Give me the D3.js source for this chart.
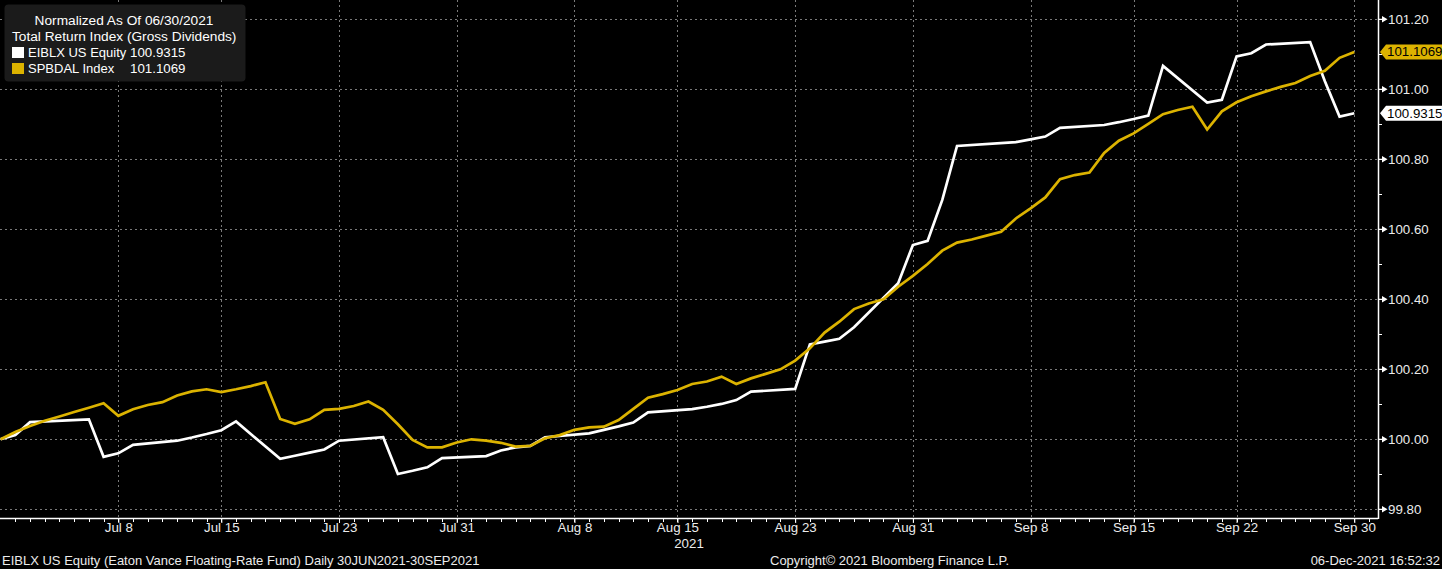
<!DOCTYPE html>
<html>
<head>
<meta charset="utf-8">
<script src="https://cdn.jsdelivr.net/npm/d3@7/dist/d3.min.js"></script>
<style>
  html, body { margin: 0; padding: 0; background: #000; }
  svg { display: block; }
  text { font-family: "Liberation Sans", Arial, sans-serif; }
</style>
</head>
<body>
<svg id="chart" width="1442" height="569"></svg>
<script>
// ---------------- DATA ----------------
const legendTitle1 = "Normalized As Of 06/30/2021";
const legendTitle2 = "Total Return Index (Gross Dividends)";
const seriesNames = ["EIBLX US Equity", "SPBDAL Index"];
const lastValues = [100.9315, 101.1069];

// EIBLX (business days)
const eiblxDates = [
  "2021-06-30","2021-07-01","2021-07-02","2021-07-06","2021-07-07","2021-07-08","2021-07-09",
  "2021-07-12","2021-07-13","2021-07-14","2021-07-15","2021-07-16",
  "2021-07-19","2021-07-20","2021-07-21","2021-07-22","2021-07-23",
  "2021-07-26","2021-07-27","2021-07-28","2021-07-29","2021-07-30",
  "2021-08-02","2021-08-03","2021-08-04","2021-08-05","2021-08-06",
  "2021-08-09","2021-08-10","2021-08-11","2021-08-12","2021-08-13",
  "2021-08-16","2021-08-17","2021-08-18","2021-08-19","2021-08-20",
  "2021-08-23","2021-08-24","2021-08-25","2021-08-26","2021-08-27",
  "2021-08-30","2021-08-31","2021-09-01","2021-09-02","2021-09-03",
  "2021-09-07","2021-09-08","2021-09-09","2021-09-10",
  "2021-09-13","2021-09-14","2021-09-15","2021-09-16","2021-09-17",
  "2021-09-20","2021-09-21","2021-09-22","2021-09-23","2021-09-24",
  "2021-09-27","2021-09-28","2021-09-29","2021-09-30"
];
const eiblxValues = [
  100.000,100.012,100.049,100.057,99.950,99.960,99.984,
  99.996,100.005,100.015,100.026,100.051,
  99.944,99.953,99.962,99.971,99.996,
  100.006,99.901,99.910,99.920,99.946,
  99.952,99.968,99.977,99.981,100.006,
  100.017,100.027,100.037,100.048,100.077,
  100.086,100.093,100.101,100.112,100.136,
  100.144,100.271,100.279,100.287,100.320,
  100.446,100.555,100.567,100.684,100.838,
  100.849,100.857,100.865,100.890,
  100.898,100.906,100.915,100.925,101.067,
  100.962,100.970,101.094,101.103,101.128,
  101.135,101.023,100.922,100.9315
];

// SPBDAL (calendar days, 30 Jun 2021 .. 30 Sep 2021)
const spbdalStart = "2021-06-30";
const spbdalValues = [
  100.000,100.021,100.038,100.053,100.065,100.078,100.090,100.103,100.067,100.086,
  100.098,100.106,100.125,100.137,100.143,100.135,100.143,100.152,100.163,100.058,
  100.044,100.057,100.084,100.087,100.095,100.108,100.084,100.043,99.998,99.977,
  99.977,99.991,100.000,99.996,99.990,99.979,99.981,100.003,100.012,100.027,
  100.034,100.036,100.055,100.087,100.119,100.129,100.141,100.158,100.165,100.179,
  100.158,100.174,100.187,100.200,100.225,100.260,100.305,100.336,100.372,100.388,
  100.400,100.436,100.467,100.501,100.539,100.562,100.571,100.582,100.593,100.631,
  100.660,100.691,100.743,100.755,100.762,100.818,100.853,100.874,100.901,100.929,
  100.941,100.950,100.885,100.937,100.963,100.980,100.994,101.007,101.018,101.038,
  101.053,101.090,101.1069
];

const xTickDates = ["2021-07-08","2021-07-15","2021-07-23","2021-07-31","2021-08-08","2021-08-15",
                    "2021-08-23","2021-08-31","2021-09-08","2021-09-15","2021-09-22","2021-09-30"];
const xTickLabels = ["Jul 8","Jul 15","Jul 23","Jul 31","Aug 8","Aug 15",
                     "Aug 23","Aug 31","Sep 8","Sep 15","Sep 22","Sep 30"];
const yearLabel = "2021";
const yTicks = [99.8,100.0,100.2,100.4,100.6,100.8,101.0,101.2];
const yMinorTicks = [99.9,100.1,100.3,100.5,100.7,100.9,101.1];

const footerLeft = "EIBLX US Equity (Eaton Vance Floating-Rate Fund)  Daily 30JUN2021-30SEP2021";
const footerMid = "Copyright\u00A9 2021 Bloomberg Finance L.P.";
const footerRight = "06-Dec-2021 16:52:32";

// ---------------- CHART ----------------
const W = 1442, H = 569;
const plotRight = 1378, plotBottom = 518;
const colors = ["#ffffff", "#dcb300"];
const parse = d3.utcParse("%Y-%m-%d");

const svg = d3.select("#chart");
svg.append("rect").attr("width", W).attr("height", H).attr("fill", "#000");

const x = d3.scaleUtc()
  .domain([parse("2021-06-30"), new Date(Date.UTC(2021, 9, 1, 14, 40))])
  .range([0.6, plotRight]);
const y = d3.scaleLinear().domain([99.8, 101.2]).range([509.3, 19.3]);

const eiblx = eiblxDates.map((d, i) => ({ date: parse(d), value: eiblxValues[i] }));
const spbStart = parse(spbdalStart);
const spbdal = spbdalValues.map((v, i) => ({ date: d3.utcDay.offset(spbStart, i), value: v }));

// grid
const grid = svg.append("g").attr("stroke", "#7a7a7a").attr("stroke-width", 1)
  .attr("stroke-dasharray", "2,3").attr("shape-rendering", "crispEdges");
grid.selectAll("line.h").data(yTicks).join("line")
  .attr("x1", 0).attr("x2", plotRight)
  .attr("y1", d => Math.round(y(d)) + 0.5).attr("y2", d => Math.round(y(d)) + 0.5);
grid.selectAll("line.v").data(xTickDates).join("line")
  .attr("y1", 0).attr("y2", plotBottom)
  .attr("x1", d => Math.round(x(parse(d))) + 0.5).attr("x2", d => Math.round(x(parse(d))) + 0.5);

// lines
const line = d3.line().x(d => x(d.date)).y(d => y(d.value));
svg.append("path").datum(eiblx).attr("d", line)
  .attr("fill", "none").attr("stroke", colors[0]).attr("stroke-width", 2.7)
  .attr("stroke-linejoin", "miter");
svg.append("path").datum(spbdal).attr("d", line)
  .attr("fill", "none").attr("stroke", colors[1]).attr("stroke-width", 2.7)
  .attr("stroke-linejoin", "miter");

// bottom axis
const xAxisG = svg.append("g").attr("transform", `translate(0,${plotBottom})`);
xAxisG.append("line").attr("x1", 0).attr("x2", plotRight).attr("y1", 0.5).attr("y2", 0.5)
  .attr("stroke", "#fff").attr("stroke-width", 1.5);
const days = d3.utcDay.range(parse("2021-07-01"), parse("2021-10-02"));
xAxisG.selectAll("line.minor").data(days).join("line")
  .attr("x1", d => Math.round(x(d)) + 0.5).attr("x2", d => Math.round(x(d)) + 0.5)
  .attr("y1", 0).attr("y2", 4).attr("stroke", "#fff").attr("stroke-width", 1);
const xAxis = d3.axisBottom(x)
  .tickValues(xTickDates.map(parse))
  .tickFormat((d, i) => xTickLabels[i])
  .tickSize(5).tickPadding(3);
const xa = xAxisG.append("g").call(xAxis);
xa.select(".domain").remove();
xa.selectAll(".tick line").attr("stroke", "#fff");
xa.selectAll(".tick text").attr("fill", "#ececec").attr("font-size", 13.3)
  .attr("font-family", "'Liberation Sans', Arial, sans-serif")
  .attr("dy", null).attr("y", 14);
xAxisG.append("text").attr("x", plotRight / 2).attr("y", 30).attr("text-anchor", "middle")
  .attr("fill", "#ececec").attr("font-size", 13.3).text(yearLabel);

// right axis
const yAxisG = svg.append("g").attr("transform", `translate(${plotRight},0)`);
yAxisG.append("line").attr("x1", 0.5).attr("x2", 0.5).attr("y1", 0).attr("y2", plotBottom + 1)
  .attr("stroke", "#fff").attr("stroke-width", 1.5);
yAxisG.selectAll("line.minor").data(yMinorTicks).join("line")
  .attr("x1", 0).attr("x2", 4)
  .attr("y1", d => Math.round(y(d)) + 0.5).attr("y2", d => Math.round(y(d)) + 0.5)
  .attr("stroke", "#fff");
const yAxis = d3.axisRight(y).tickValues(yTicks).tickFormat(d3.format(".2f"))
  .tickSize(0).tickPadding(10);
const ya = yAxisG.append("g").call(yAxis);
ya.select(".domain").remove();
ya.selectAll(".tick text").attr("fill", "#ececec").attr("font-size", 13.3)
  .attr("font-family", "'Liberation Sans', Arial, sans-serif");
yAxisG.selectAll("path.arrow").data(yTicks).join("path")
  .attr("d", d => { const yy = y(d); return `M0,${yy - 0.6}h4v-2.6l5.5,3.2l-5.5,3.2v-2.6h-4z`; })
  .attr("fill", "#fff");

// last value tags
lastValues.forEach((v, i) => {
  const yy = y(v);
  const g = svg.append("g");
  g.append("path")
    .attr("d", `M${plotRight + 2},${yy} L${plotRight + 8},${yy - 7.5} H${W} V${yy + 7.5} H${plotRight + 8} Z`)
    .attr("fill", colors[i]);
  g.append("text").attr("x", plotRight + 9).attr("y", yy + 4.6)
    .attr("fill", "#000").attr("font-size", 13.3).text(d3.format(".4f")(v));
});

// legend
const lg = svg.append("g");
lg.append("rect").attr("x", 4.5).attr("y", 4.5).attr("width", 241).attr("height", 77)
  .attr("rx", 4).attr("fill", "#1b1b1b");
lg.append("text").attr("x", 124).attr("y", 25).attr("text-anchor", "middle")
  .attr("fill", "#fff").attr("font-size", 13.7).text(legendTitle1);
lg.append("text").attr("x", 12).attr("y", 40.5).attr("fill", "#fff").attr("font-size", 13.7).text(legendTitle2);
seriesNames.forEach((n, i) => {
  const yy = 56.5 + i * 16;
  lg.append("rect").attr("x", 12).attr("y", yy - 9.5).attr("width", 12).attr("height", 11).attr("fill", colors[i]);
  lg.append("text").attr("x", 28).attr("y", yy).attr("fill", "#fff").attr("font-size", 13).text(n);
  lg.append("text").attr("x", 130).attr("y", yy).attr("fill", "#fff").attr("font-size", 13.3)
    .text(d3.format(".4f")(lastValues[i]));
});

// footer
svg.append("text").attr("x", 2).attr("y", 565).attr("fill", "#ececec").attr("font-size", 13).text(footerLeft);
svg.append("text").attr("x", 770).attr("y", 565).attr("fill", "#ececec").attr("font-size", 13).text(footerMid);
svg.append("text").attr("x", 1440).attr("y", 565).attr("text-anchor", "end")
  .attr("fill", "#ececec").attr("font-size", 13).text(footerRight);
</script>
</body>
</html>
